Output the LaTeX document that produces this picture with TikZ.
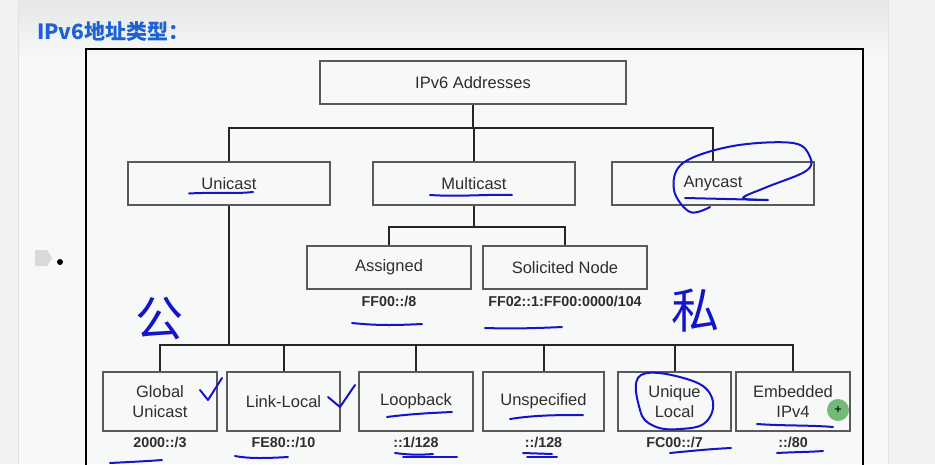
\documentclass[tikz,border=0pt]{standalone}
\usepackage{fontspec}
\setmainfont{Liberation Sans}
\newfontfamily\cjk{Noto Sans CJK SC}
\usetikzlibrary{shapes.geometric}
\definecolor{pagebg}{HTML}{F7F9F8}
\definecolor{sidebg}{HTML}{F1F3F2}
\definecolor{topgray}{HTML}{E6E8E7}
\definecolor{titleblue}{HTML}{1C62D4}
\definecolor{boxline}{HTML}{5A5A5A}
\definecolor{txt}{HTML}{2E2E2E}
\definecolor{hand}{HTML}{1515C8}
\definecolor{cursor}{HTML}{5FAE62}
\tikzset{
  box/.style={draw=boxline, line width=1.4pt, fill=pagebg, text=txt, align=center,
    font=\fontsize{16.5}{19.5}\selectfont, inner sep=0pt},
  topbox/.style={box, minimum width=306pt, minimum height=43pt},
  midbox/.style={box, minimum width=202pt, minimum height=43pt},
  mcbox/.style={box, minimum width=164pt, minimum height=43pt},
  leafbox/.style={box, minimum height=59pt},
  lbl/.style={text=txt, font=\bfseries\fontsize{14.3}{16}\selectfont, inner sep=0pt},
  link/.style={draw=black!85, line width=2pt},
  handline/.style={draw=hand, line width=2pt, line cap=round, line join=round},
}
\begin{document}
\begin{tikzpicture}[x=1pt,y=-1pt]
\useasboundingbox (0,0) rectangle (935,464);
% background
\fill[sidebg] (0,0) rectangle (935,464);
\shade[top color=topgray, bottom color=pagebg] (18,0) rectangle (888,60);
\fill[pagebg] (18,60) rectangle (888,464);
\draw[black!12, line width=0.8pt] (18,0) -- (18,464);
\draw[black!10, line width=0.8pt] (888,0) -- (888,464);
% title
\node[anchor=west, text=titleblue, inner sep=0pt, font=\cjk\bfseries\fontsize{21}{23}\selectfont] (title) at (37,32) {IPv6地址类型：};
% bullet marker
\fill[black!15] (35,250) -- (47,250) -- (52,258) -- (47,266) -- (35,266) -- cycle;
\fill[black] (60,262) circle (3pt);
% frame
\draw[black, line width=2pt] (86,470) -- (86,49) -- (863,49) -- (863,470);
% coordinates for bars
\coordinate (bar1) at (0,128);
\coordinate (bar2) at (0,227);
\coordinate (bar3) at (0,345);
% nodes
\node[topbox] (root) at (473,82.5) {IPv6 Addresses};
\node[midbox] (uni) at (229,183.5) {Unicast};
\node[midbox] (mul) at (474,183.5) {Multicast};
\node[midbox] (any) at (713,183.5) {Anycast};
\node[mcbox] (asg) at (389,267.5) {Assigned};
\node[mcbox] (sol) at (565,267.5) {Solicited Node};
\node[lbl] (asgl) at (389,301) {FF00::/8};
\node[lbl] (soll) at (565,301) {FF02::1:FF00:0000/104};
\node[leafbox, minimum width=114pt] (glo) at (160,401.5) {Global\\Unicast};
\node[leafbox, minimum width=113pt] (lnk) at (283.5,401.5) {Link-Local};
\node[leafbox, minimum width=114pt] (lop) at (416,401.5) {Loopback};
\node[leafbox, minimum width=121pt] (uns) at (543.5,401.5) {Unspecified};
\node[leafbox, minimum width=113pt] (unq) at (674.5,401.5) {Unique\\Local};
\node[leafbox, minimum width=114pt] (emb) at (793,401.5) {Embedded\\IPv4};
\node[lbl] (glol) at (160,442) {2000::/3};
\node[lbl] (lnkl) at (283.5,442) {FE80::/10};
\node[lbl] (lopl) at (416,442) {::1/128};
\node[lbl] (unsl) at (543.5,442) {::/128};
\node[lbl] (unql) at (674.5,442) {FC00::/7};
\node[lbl] (embl) at (793,442) {::/80};
% connectors
\draw[link] (root.south) -- (root.south |- bar1);
\draw[link] (uni.north) -- (uni.north |- bar1) -| (any.north);
\draw[link] (mul.north) -- (mul.north |- bar1);
\draw[link] (mul.south) -- (mul.south |- bar2);
\draw[link] (asg.north) -- (asg.north |- bar2) -| (sol.north);
\draw[link] (uni.south) -- (uni.south |- bar3);
\draw[link] (glo.north) -- (glo.north |- bar3) -| (emb.north);
\draw[link] (lnk.north) -- (lnk.north |- bar3);
\draw[link] (lop.north) -- (lop.north |- bar3);
\draw[link] (uns.north) -- (uns.north |- bar3);
\draw[link] (unq.north) -- (unq.north |- bar3);
% handwritten annotations
\draw[handline] (189,193.5) .. controls (215,192) and (235,194) .. (253,192);
\draw[handline] (430,195) .. controls (460,197) and (490,194) .. (512,195);
\draw[handline] (685,198) -- (768,200);
\draw[handline] plot[smooth, tension=0.6] coordinates {(710,207) (690,212) (674,190) (683,163) (733,146) (793,143) (810,157) (806,171) (767,187) (743,198) (767,200)};
\draw[handline] (352,323) .. controls (380,326) and (400,325) .. (422,324);
\draw[handline] (485,328) .. controls (515,329) and (540,328) .. (562,327);
\node[text=hand, inner sep=0pt, font=\cjk\fontsize{48}{48}\selectfont] (gong) at (159,319) {公};
\node[text=hand, inner sep=0pt, font=\cjk\fontsize{48}{48}\selectfont] (si) at (695,311) {私};
\draw[handline] (200,390) -- (208,400) -- (222,378);
\draw[handline] (328,397) -- (340,407) -- (355,385);
\draw[handline] (387,417) .. controls (410,414) and (430,413) .. (452,412);
\draw[handline] (510,419) .. controls (535,415) and (560,415) .. (583,415);
\draw[handline] plot[smooth cycle, tension=0.7] coordinates {(641,375) (690,380) (712,398) (706,422) (680,429) (654,426) (640,410)};
\draw[handline] (757,424) .. controls (785,426) and (810,425) .. (833,427);
\draw[handline] (110,463) .. controls (130,462) and (150,461) .. (162,460);
\draw[handline] (235,456) .. controls (250,459) and (270,458) .. (288,457);
\draw[handline] (395,453) .. controls (410,455) and (420,455) .. (433,454);
\draw[handline] (403,457) -- (457,457);
\draw[handline] (523,453) -- (552,454);
\draw[handline] (527,457) -- (557,457);
\draw[handline] (670,453) .. controls (690,451) and (710,449) .. (731,448);
\draw[handline] (777,453) .. controls (795,452) and (810,452) .. (823,451);
% cursor marker
\fill[cursor, opacity=0.85] (838,410) circle (11pt);
\node[text=black!80!green, inner sep=0pt, font=\bfseries\fontsize{12}{12}\selectfont] (plus) at (838,409.5) {+};
\end{tikzpicture}
\end{document}
